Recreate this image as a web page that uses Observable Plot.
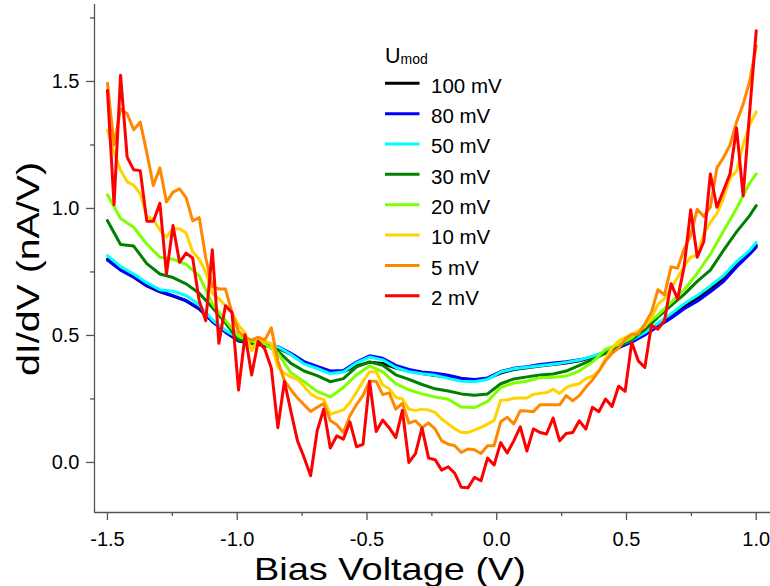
<!DOCTYPE html>
<html>
<head>
<meta charset="utf-8">
<script src="https://cdn.jsdelivr.net/npm/d3@7"></script>
<script src="https://cdn.jsdelivr.net/npm/@observablehq/plot@0.6"></script>
<style>
  html, body { margin: 0; padding: 0; background: #fff; }
  #chart { width: 770px; height: 586px; }
</style>
</head>
<body>
<div id="chart"></div>
<script>
// Bias voltage grid (V), 100 samples
const bias = [
  -1.5, -1.4747, -1.4495, -1.4242, -1.399, -1.3737, -1.3485, -1.3232, -1.298, -1.2727,
  -1.2475, -1.2222, -1.197, -1.1717, -1.1465, -1.1212, -1.096, -1.0707, -1.0455, -1.0202,
  -0.9949, -0.9697, -0.9444, -0.9192, -0.8939, -0.8687, -0.8434, -0.8182, -0.7929, -0.7677,
  -0.7424, -0.7172, -0.6919, -0.6667, -0.6414, -0.6162, -0.5909, -0.5657, -0.5404, -0.5152,
  -0.4899, -0.4646, -0.4394, -0.4141, -0.3889, -0.3636, -0.3384, -0.3131, -0.2879, -0.2626,
  -0.2374, -0.2121, -0.1869, -0.1616, -0.1364, -0.1111, -0.0859, -0.0606, -0.0354, -0.0101,
  0.0152, 0.0404, 0.0657, 0.0909, 0.1162, 0.1414, 0.1667, 0.1919, 0.2172, 0.2424,
  0.2677, 0.2929, 0.3182, 0.3434, 0.3687, 0.3939, 0.4192, 0.4444, 0.4697, 0.4949,
  0.5202, 0.5455, 0.5707, 0.596, 0.6212, 0.6465, 0.6717, 0.697, 0.7222, 0.7475,
  0.7727, 0.798, 0.8232, 0.8485, 0.8737, 0.899, 0.9242, 0.9495, 0.9747, 1.0
];
// smooth curves were read on every second sample (plus the last one)
const biasCoarse = bias.filter((_, i) => i % 2 === 0 || i === bias.length - 1);

// dI/dV (nA/V) per modulation amplitude
const mod100 = [
  0.800, 0.760, 0.730, 0.695, 0.672, 0.655, 0.636, 0.604, 0.556, 0.514,
  0.478, 0.468, 0.460, 0.450, 0.425, 0.393, 0.374, 0.357, 0.358, 0.380,
  0.395, 0.390, 0.372, 0.360, 0.350, 0.342, 0.335, 0.325, 0.322, 0.330,
  0.352, 0.366, 0.373, 0.380, 0.386, 0.392, 0.400, 0.414, 0.432, 0.453,
  0.477, 0.505, 0.540, 0.576, 0.615, 0.647, 0.684, 0.724, 0.777, 0.826, 0.855
];
const mod80 = [
  0.797, 0.757, 0.729, 0.697, 0.674, 0.657, 0.638, 0.606, 0.555, 0.513,
  0.480, 0.472, 0.466, 0.456, 0.430, 0.397, 0.378, 0.360, 0.362, 0.395,
  0.420, 0.410, 0.382, 0.366, 0.356, 0.351, 0.343, 0.332, 0.327, 0.333,
  0.358, 0.371, 0.377, 0.386, 0.392, 0.397, 0.404, 0.416, 0.432, 0.452,
  0.474, 0.502, 0.535, 0.568, 0.605, 0.635, 0.672, 0.712, 0.770, 0.820, 0.847
];
const mod50 = [
  0.814, 0.771, 0.742, 0.708, 0.680, 0.674, 0.657, 0.620, 0.562, 0.520,
  0.490, 0.476, 0.470, 0.455, 0.425, 0.388, 0.370, 0.350, 0.356, 0.392,
  0.415, 0.404, 0.374, 0.357, 0.349, 0.343, 0.331, 0.320, 0.318, 0.327,
  0.356, 0.369, 0.375, 0.381, 0.387, 0.394, 0.403, 0.418, 0.436, 0.459,
  0.482, 0.512, 0.548, 0.585, 0.625, 0.657, 0.695, 0.735, 0.790, 0.835, 0.866
];
const mod30 = [
  0.952, 0.858, 0.852, 0.783, 0.742, 0.728, 0.703, 0.666, 0.610, 0.550,
  0.483, 0.468, 0.467, 0.438, 0.390, 0.360, 0.342, 0.318, 0.330, 0.376,
  0.396, 0.383, 0.345, 0.327, 0.307, 0.290, 0.281, 0.270, 0.265, 0.270,
  0.310, 0.329, 0.337, 0.344, 0.348, 0.360, 0.382, 0.405, 0.430, 0.457,
  0.484, 0.523, 0.572, 0.617, 0.662, 0.713, 0.757, 0.835, 0.908, 0.972, 1.011
];
const mod20 = [
  1.054, 0.960, 0.926, 0.860, 0.808, 0.800, 0.780, 0.735, 0.625, 0.560,
  0.497, 0.478, 0.467, 0.430, 0.353, 0.318, 0.280, 0.258, 0.295, 0.345,
  0.380, 0.357, 0.310, 0.286, 0.270, 0.258, 0.249, 0.218, 0.216, 0.240,
  0.295, 0.313, 0.320, 0.334, 0.335, 0.340, 0.360, 0.395, 0.445, 0.465,
  0.490, 0.540, 0.580, 0.630, 0.680, 0.745, 0.820, 0.910, 1.000, 1.100, 1.136
];
const mod10 = [
  1.308, 1.220, 1.150, 1.105, 1.092, 1.058, 0.970, 0.957, 0.915, 0.887,
  0.920, 0.920, 0.903, 0.830, 0.800, 0.750, 0.665, 0.645, 0.617, 0.590,
  0.540, 0.510, 0.440, 0.485, 0.478, 0.468, 0.375, 0.352, 0.337, 0.327,
  0.300, 0.270, 0.255, 0.248, 0.190, 0.198, 0.207, 0.236, 0.276, 0.320,
  0.357, 0.357, 0.305, 0.290, 0.256, 0.250, 0.210, 0.204, 0.210, 0.206,
  0.197, 0.171, 0.152, 0.133, 0.118, 0.118, 0.127, 0.138, 0.151, 0.165,
  0.245, 0.246, 0.253, 0.254, 0.254, 0.268, 0.272, 0.275, 0.288, 0.272,
  0.295, 0.305, 0.310, 0.330, 0.340, 0.360, 0.410, 0.450, 0.478, 0.492,
  0.504, 0.517, 0.535, 0.570, 0.622, 0.645, 0.685, 0.728, 0.772, 0.808,
  0.817, 0.900, 0.945, 0.980, 1.040, 1.120, 1.147, 1.250, 1.330, 1.380
];
const mod5 = [
  1.493, 1.250, 1.392, 1.373, 1.310, 1.340, 1.220, 1.090, 1.160, 1.026,
  1.064, 1.077, 1.043, 0.951, 0.964, 0.805, 0.693, 0.683, 0.683, 0.590,
  0.515, 0.493, 0.482, 0.493, 0.482, 0.530, 0.400, 0.322, 0.286, 0.254,
  0.227, 0.201, 0.217, 0.232, 0.165, 0.148, 0.118, 0.184, 0.228, 0.264,
  0.320, 0.320, 0.267, 0.274, 0.210, 0.233, 0.155, 0.164, 0.138, 0.155,
  0.132, 0.085, 0.072, 0.066, 0.039, 0.053, 0.050, 0.035, 0.066, 0.066,
  0.160, 0.178, 0.152, 0.204, 0.203, 0.200, 0.227, 0.227, 0.227, 0.227,
  0.263, 0.243, 0.263, 0.296, 0.325, 0.360, 0.400, 0.430, 0.450, 0.485,
  0.505, 0.506, 0.545, 0.590, 0.680, 0.660, 0.770, 0.765, 0.840, 0.895,
  0.997, 0.968, 1.005, 1.160, 1.200, 1.250, 1.340, 1.410, 1.500, 1.640
];
const mod2 = [
  1.464, 1.015, 1.524, 1.202, 1.152, 1.149, 0.950, 0.950, 1.020, 0.742,
  0.933, 0.788, 0.824, 0.805, 0.637, 0.558, 0.837, 0.469, 0.617, 0.591,
  0.285, 0.503, 0.344, 0.477, 0.447, 0.372, 0.137, 0.319, 0.200, 0.085,
  0.020, -0.052, 0.125, 0.210, 0.057, 0.105, 0.092, 0.160, 0.062, 0.071,
  0.320, 0.122, 0.167, 0.136, 0.098, 0.205, 0.000, 0.035, 0.136, 0.017,
  0.011, -0.030, -0.017, -0.043, -0.098, -0.100, -0.059, -0.072, 0.017, -0.010,
  0.078, 0.037, 0.085, 0.140, 0.045, 0.132, 0.118, 0.112, 0.175, 0.085,
  0.114, 0.118, 0.164, 0.131, 0.217, 0.200, 0.250, 0.220, 0.300, 0.280,
  0.473, 0.400, 0.374, 0.540, 0.525, 0.558, 0.704, 0.644, 0.770, 0.995,
  0.808, 0.870, 1.136, 1.005, 1.070, 1.136, 1.317, 1.050, 1.380, 1.700
];

const seriesLabels = ["100 mV", "80 mV", "50 mV", "30 mV", "20 mV", "10 mV", "5 mV", "2 mV"];
const seriesColors = ["#000000", "#0000ff", "#00ffff", "#008000", "#80ff00", "#ffd200", "#ff8800", "#ff0000"];
const seriesValues = [mod100, mod80, mod50, mod30, mod20, mod10, mod5, mod2];

const xTicks = [-1.5, -1.0, -0.5, 0.0, 0.5, 1.0];
const xMinorTicks = [-1.25, -0.75, -0.25, 0.25, 0.75];
const yTicks = [0.0, 0.5, 1.0, 1.5];
const yMinorTicks = [0.25, 0.75, 1.25, 1.75];
const xTitle = "Bias Voltage (V)";
const yTitle = "dI/dV (nA/V)";
const legendTitle = "U";
const legendTitleSub = "mod";

const FONT = "'Liberation Sans', Arial, Helvetica, sans-serif";
const AXIS = "#555";

const lineMarks = seriesValues.map((vals, k) => {
  const xs = vals.length === bias.length ? bias : biasCoarse;
  const rows = vals.map((v, i) => ({bias: xs[i], dIdV: v}));
  return Plot.line(rows, {x: "bias", y: "dIdV", stroke: seriesColors[k], strokeWidth: 3});
});

const chart = Plot.plot({
  width: 770,
  height: 586,
  marginLeft: 94,
  marginRight: 0,
  marginTop: 4,
  marginBottom: 74,
  x: {domain: [-1.55, 1.055]},
  y: {domain: [-0.197, 1.803]},
  style: {fontFamily: FONT, color: "#000", background: "#fff", overflow: "visible"},
  marks: [
    ...lineMarks,
    Plot.ruleX([-1.55], {stroke: AXIS, strokeWidth: 1.3}),
    Plot.ruleY([-0.197], {stroke: AXIS, strokeWidth: 1.3}),
    Plot.axisX(xTicks, {anchor: "bottom", tickSize: 8, tickPadding: 11, tickFormat: d => d.toFixed(1),
      fontSize: 20, stroke: AXIS, strokeWidth: 1.3, fill: "#000", label: null}),
    Plot.axisX(xMinorTicks, {anchor: "bottom", tickSize: 4, tickFormat: () => "",
      stroke: AXIS, strokeWidth: 1.3, label: null}),
    Plot.axisY(yTicks, {anchor: "left", tickSize: 8, tickPadding: 7, tickFormat: d => d.toFixed(1),
      fontSize: 20, stroke: AXIS, strokeWidth: 1.3, fill: "#000", label: null}),
    Plot.axisY(yMinorTicks, {anchor: "left", tickSize: 4, tickFormat: () => "",
      stroke: AXIS, strokeWidth: 1.3, label: null})
  ]
});

document.getElementById("chart").appendChild(chart);

const svg = d3.select(chart);

// Axis titles
svg.append("text")
  .attr("x", 390).attr("y", 580)
  .attr("text-anchor", "middle").attr("font-family", FONT).attr("font-size", 32).attr("fill", "#000")
  .attr("textLength", 272).attr("lengthAdjust", "spacingAndGlyphs")
  .text(xTitle);
svg.append("text")
  .attr("transform", "translate(39,269) rotate(-90)")
  .attr("text-anchor", "middle").attr("font-family", FONT).attr("font-size", 32).attr("fill", "#000")
  .attr("textLength", 214).attr("lengthAdjust", "spacingAndGlyphs")
  .text(yTitle);

// Legend drawn inside the plotting area (upper middle)
const lg = svg.append("g").attr("font-family", FONT).attr("fill", "#000").attr("text-anchor", "start");
const title = lg.append("text").attr("x", 385).attr("y", 62.5).attr("font-size", 21.5).text(legendTitle);
title.append("tspan").attr("font-size", 14).attr("dy", 1).text(legendTitleSub);
seriesLabels.forEach((lab, k) => {
  const yc = 83.3 + 30.35 * k;
  lg.append("line").attr("x1", 385).attr("x2", 419.5).attr("y1", yc).attr("y2", yc)
    .attr("stroke", seriesColors[k]).attr("stroke-width", 3);
  lg.append("text").attr("x", 431).attr("y", yc + 9.4).attr("font-size", 20.5).text(lab);
});
</script>
</body>
</html>
